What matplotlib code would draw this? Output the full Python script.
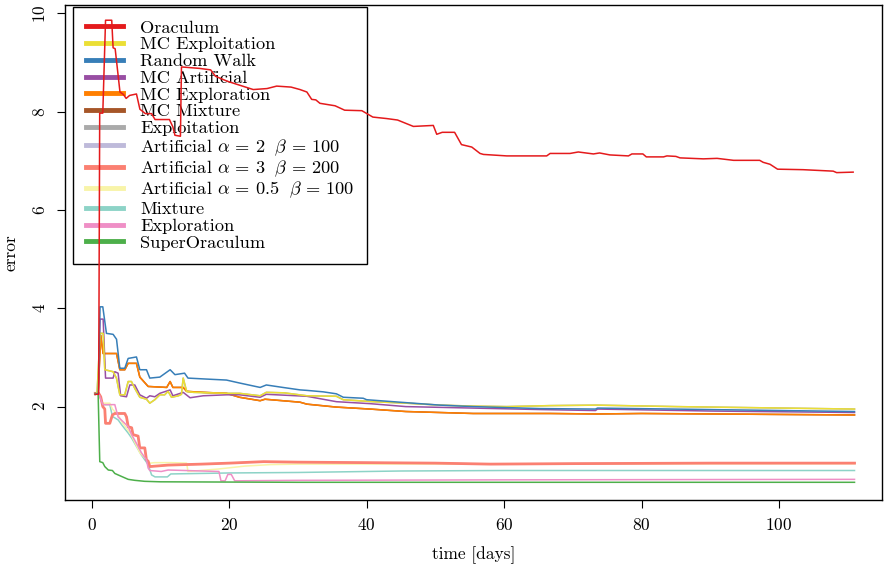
import matplotlib
matplotlib.use("Agg")
import matplotlib.pyplot as plt

plt.rcParams['font.family'] = ['cmr10', 'DejaVu Serif']
plt.rcParams['mathtext.fontset'] = 'cm'
plt.rcParams['axes.unicode_minus'] = False
plt.rcParams['axes.formatter.use_mathtext'] = True

# Series: (day, error) breakpoints
oraculum_days = [0.5, 1.0, 1.15, 1.6, 2.0, 2.9, 3.1, 3.4, 4.1, 4.6, 5.0, 5.5, 6.5, 7.0, 7.8, 8.7,
                 9.2, 11.3, 11.8, 12.1, 12.9, 13.05, 15.7, 17.3, 18.0, 19.7, 22.6, 23.5, 25.5,
                 26.9, 29.0, 30.3, 31.3, 32.0, 32.6, 33.2, 35.4, 36.8, 39.3, 40.9, 42.9, 44.5,
                 46.8, 49.7, 50.2, 51.0, 52.8, 53.8, 55.3, 56.5, 57.0, 60.4, 66.2, 66.7, 69.6,
                 70.8, 73.0, 73.9, 75.4, 78.1, 78.6, 80.2, 80.7, 83.2, 83.7, 85.0, 85.6, 89.0,
                 91.0, 93.4, 97.2, 97.7, 98.7, 99.8, 103.5, 107.9, 108.4, 110.8]
oraculum_err = [2.25, 2.25, 7.97, 7.97, 9.86, 9.86, 9.30, 9.28, 8.40, 8.35, 8.27, 8.33, 8.36,
                8.05, 7.96, 7.96, 7.84, 7.84, 7.69, 7.52, 7.50, 8.91, 8.88, 8.85, 8.72, 8.62,
                8.49, 8.45, 8.47, 8.52, 8.50, 8.45, 8.40, 8.25, 8.24, 8.17, 8.12, 8.03, 8.02,
                7.89, 7.86, 7.83, 7.70, 7.72, 7.54, 7.58, 7.58, 7.33, 7.28, 7.15, 7.13, 7.10,
                7.10, 7.15, 7.15, 7.18, 7.14, 7.16, 7.12, 7.10, 7.14, 7.14, 7.08, 7.08, 7.10,
                7.09, 7.06, 7.04, 7.05, 7.01, 7.01, 6.97, 6.93, 6.83, 6.82, 6.79, 6.76, 6.77]

random_walk_days = [0.5, 0.95, 1.2, 1.6, 2.13, 3.1, 3.6, 4.08, 4.8, 5.29, 6.5, 6.99, 7.96, 8.44,
                    9.9, 11.4, 12.1, 13.5, 14.0, 16.7, 19.6, 21.5, 24.5, 25.4, 27.8, 30.3, 31.3,
                    33.7, 35.6, 36.6, 39.5, 40.0, 44.8, 47.7, 50.7, 55.5, 60.4, 65.2, 73.3, 73.6,
                    90.0, 111.0]
random_walk_err = [2.25, 2.27, 4.03, 4.03, 3.49, 3.47, 3.37, 2.78, 2.78, 2.98, 3.01, 2.75, 2.75,
                   2.58, 2.60, 2.75, 2.65, 2.68, 2.58, 2.56, 2.54, 2.48, 2.39, 2.44, 2.39, 2.34,
                   2.33, 2.30, 2.26, 2.19, 2.17, 2.14, 2.09, 2.06, 2.03, 2.00, 1.98, 1.96, 1.95,
                   1.97, 1.94, 1.90]

mc_exploitation_days = [0.5, 0.77, 1.2, 1.65, 1.89, 3.1, 3.59, 4.08, 4.8, 5.29, 5.77, 6.26, 6.99,
                        7.96, 8.44, 9.17, 9.9, 10.6, 11.1, 11.6, 12.6, 13.05, 13.3, 13.8, 14.8,
                        19.6, 21.5, 24.5, 25.4, 28.0, 31.3, 35.6, 36.6, 40.9, 45.7, 50.7, 55.5,
                        60.4, 66.7, 73.5, 85.0, 111.0]
mc_exploitation_err = [2.25, 2.28, 3.49, 3.49, 2.75, 2.71, 2.58, 2.24, 2.24, 2.51, 2.51, 2.37,
                       2.19, 2.15, 2.07, 2.14, 2.24, 2.24, 2.31, 2.19, 2.22, 2.25, 2.58, 2.31,
                       2.29, 2.27, 2.27, 2.22, 2.29, 2.28, 2.22, 2.21, 2.14, 2.10, 2.07, 2.03,
                       2.01, 2.00, 2.02, 2.03, 2.00, 1.95]

mc_artificial_days = [0.5, 0.92, 1.2, 1.65, 2.0, 3.1, 3.35, 3.83, 4.2, 5.05, 5.53, 6.26, 6.99,
                      7.96, 8.44, 9.17, 9.9, 11.4, 11.8, 13.3, 14.3, 16.2, 19.6, 21.5, 24.5,
                      25.4, 31.3, 35.6, 40.5, 45.7, 55.5, 65.2, 73.3, 73.6, 90.0, 111.0]
mc_artificial_err = [2.25, 2.27, 3.78, 3.78, 2.58, 2.58, 2.71, 2.68, 2.22, 2.20, 2.44, 2.44,
                     2.24, 2.17, 2.22, 2.20, 2.27, 2.34, 2.22, 2.29, 2.18, 2.22, 2.24, 2.24,
                     2.19, 2.25, 2.21, 2.10, 2.06, 2.00, 1.97, 1.94, 1.92, 1.95, 1.91, 1.88]

mc_exploration_days = [0.5, 0.92, 1.3, 1.65, 3.6, 4.08, 4.8, 5.29, 6.5, 6.99, 8.2, 10.9, 11.4,
                       11.8, 13.3, 13.8, 16.2, 19.6, 21.5, 24.5, 25.2, 30.3, 31.3, 35.6, 40.5,
                       45.7, 55.5, 66.7, 73.5, 80.0, 111.0]
mc_exploration_err = [2.25, 2.27, 3.45, 3.08, 3.08, 2.75, 2.75, 2.88, 2.88, 2.60, 2.41, 2.39,
                      2.51, 2.39, 2.39, 2.31, 2.29, 2.27, 2.19, 2.12, 2.15, 2.09, 2.05, 1.99,
                      1.95, 1.90, 1.86, 1.86, 1.85, 1.86, 1.83]

# MC Mixture and Exploitation sit underneath other curves in the picture
mc_mixture_days = mc_exploration_days
mc_mixture_err = mc_exploration_err
exploitation_days = mc_exploitation_days
exploitation_err = mc_exploitation_err

art3_days = [0.5, 1.0, 1.3, 1.6, 1.89, 2.0, 2.62, 3.0, 3.35, 4.8, 5.05, 5.3, 5.8, 6.0, 6.74,
             6.98, 7.71, 7.95, 8.2, 8.44, 11.1, 13.5, 16.0, 20.0, 25.0, 30.0, 40.0, 50.0, 58.0,
             70.0, 90.0, 111.0]
art3_err = [2.27, 2.27, 2.20, 2.00, 1.95, 1.66, 1.66, 1.83, 1.86, 1.86, 1.79, 1.59, 1.57, 1.43,
            1.40, 1.16, 1.16, 0.92, 0.89, 0.78, 0.81, 0.82, 0.83, 0.85, 0.88, 0.87, 0.86, 0.85,
            0.83, 0.84, 0.85, 0.85]
art2_days = art3_days
art2_err = art3_err

art05_days = [0.5, 1.0, 1.6, 2.62, 3.0, 3.83, 4.5, 5.05, 5.6, 6.3, 7.0, 7.7, 8.44, 9.17, 11.6,
              13.8, 14.0, 18.4, 22.3, 26.0, 30.0, 111.0]
art05_err = [2.27, 2.27, 2.07, 2.07, 1.95, 1.83, 1.66, 1.56, 1.46, 1.26, 1.06, 0.96, 0.85, 0.86,
             0.86, 0.85, 0.68, 0.73, 0.79, 0.82, 0.83, 0.84]

mixture_days = [0.5, 1.0, 1.6, 2.62, 3.0, 3.83, 4.4, 5.3, 5.8, 6.5, 7.2, 8.2, 8.7, 9.2, 11.0,
                11.5, 20.0, 30.0, 45.0, 60.0, 80.0, 111.0]
mixture_err = [2.27, 2.27, 2.04, 2.04, 1.80, 1.73, 1.62, 1.46, 1.36, 1.19, 1.02, 0.82, 0.61,
               0.57, 0.57, 0.63, 0.65, 0.66, 0.69, 0.70, 0.70, 0.70]

exploration_days = [0.5, 1.0, 1.6, 3.35, 3.83, 4.8, 5.3, 5.8, 6.74, 7.23, 7.95, 8.2, 8.44, 10.1,
                    11.1, 18.5, 18.8, 19.4, 19.8, 20.3, 20.8, 30.0, 60.0, 111.0]
exploration_err = [2.27, 2.27, 2.04, 2.04, 1.79, 1.66, 1.59, 1.43, 1.19, 1.06, 0.92, 0.75, 0.70,
                   0.68, 0.71, 0.68, 0.49, 0.49, 0.62, 0.62, 0.49, 0.50, 0.51, 0.52]

super_days = [0.5, 0.92, 1.16, 1.6, 1.89, 2.4, 3.0, 3.35, 3.83, 4.32, 5.3, 6.26, 7.7, 10.0, 30.0,
              60.0, 111.0]
super_err = [2.27, 2.27, 0.88, 0.86, 0.78, 0.71, 0.70, 0.64, 0.61, 0.58, 0.52, 0.50, 0.48, 0.47,
             0.46, 0.46, 0.46]

labels = ["Oraculum", "MC Exploitation", "Random Walk", "MC Artificial", "MC Exploration",
          "MC Mixture", "Exploitation", r"Artificial $\alpha\,=\,2\ \ \beta\,=\,100$",
          r"Artificial $\alpha\,=\,3\ \ \beta\,=\,200$",
          r"Artificial $\alpha\,=\,0.5\ \ \beta\,=\,100$",
          "Mixture", "Exploration", "SuperOraculum"]
colors = ["#e41a1c", "#ebdf35", "#377eb8", "#984ea3", "#ff7f00", "#a65628", "#aaaaaa",
          "#bebada", "#fb8072", "#f8f4a8", "#8dd3c7", "#ef8fc6", "#4daf4a"]
series = [(oraculum_days, oraculum_err), (mc_exploitation_days, mc_exploitation_err),
          (random_walk_days, random_walk_err), (mc_artificial_days, mc_artificial_err),
          (mc_exploration_days, mc_exploration_err), (mc_mixture_days, mc_mixture_err),
          (exploitation_days, exploitation_err), (art2_days, art2_err), (art3_days, art3_err),
          (art05_days, art05_err), (mixture_days, mixture_err),
          (exploration_days, exploration_err), (super_days, super_err)]
# drawing order (hidden ones first)
order = [5, 6, 7, 10, 9, 8, 11, 12, 4, 3, 1, 2, 0]

fig = plt.figure(figsize=(8.87, 5.68), dpi=100)
ax = fig.add_axes([65 / 887, 68 / 568, 817 / 887, 495 / 568])

for i in order:
    d, e = series[i]
    lw = 2.0 if i == 8 else 1.1
    ax.plot(d, e, color=colors[i], lw=lw, zorder=3)

ax.set_xlim(-3.9, 115.0)
ax.set_ylim(0.1, 10.17)
ax.set_xticks([0, 20, 40, 60, 80, 100])
ax.set_yticks([2, 4, 6, 8, 10])
ax.tick_params(direction="out", length=6, width=0.8, labelsize=12.5, pad=6)
for lab in ax.get_yticklabels():
    lab.set_rotation(90)
    lab.set_va("center")
for s in ax.spines.values():
    s.set_linewidth(1.0)
ax.set_xlabel("time [days]", fontsize=12.5, labelpad=10)
ax.set_ylabel("error", fontsize=12.5, labelpad=10)

handles = [plt.Line2D([], [], color=c, lw=3.5) for c in colors]
leg = ax.legend(handles, labels, loc="upper left", bbox_to_anchor=(8 / 817, 1 - 2 / 495),
                borderaxespad=0, fontsize=13.2, handlelength=2.05, handletextpad=0.9,
                labelspacing=0.05, borderpad=0.7, fancybox=False, framealpha=1)
leg.get_frame().set_edgecolor("black")
leg.get_frame().set_linewidth(1.0)
leg.set_zorder(2)

fig.savefig("out.png", dpi=100)
